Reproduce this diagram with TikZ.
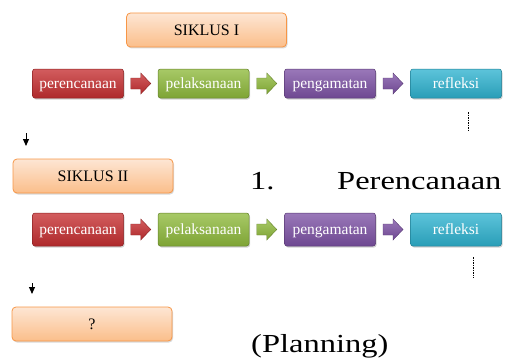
\documentclass[tikz,border=0pt]{standalone}
\usepackage{fontspec}
\setmainfont{Liberation Serif}
\newfontfamily\bigfont[FakeStretch=1.25]{Liberation Serif}
\usetikzlibrary{calc,shadows,arrows.meta}
\definecolor{cred}{HTML}{C62F31}
\definecolor{cgreen}{HTML}{8FBA3C}
\definecolor{cpurple}{HTML}{7D52A5}
\definecolor{caqua}{HTML}{2FB3D0}
\definecolor{corange}{HTML}{F79646}
\definecolor{peachtop}{HTML}{FDE6D4}
\definecolor{peachbot}{HTML}{FBBE8A}
\tikzset{
  x=1pt, y=-1pt,
  stage/.style={rounded corners=2.5pt, draw=#1!70!black, line width=0.5pt,
    top color=#1!78!white, middle color=#1, bottom color=#1!88!black,
    text=white, font=\fontsize{15.5}{17}\selectfont, inner sep=0pt,
    text height=10pt, text depth=0pt,
    minimum width=91pt,
    drop shadow={opacity=0.35, shadow xshift=1pt, shadow yshift=-1.5pt}},
  cycbox/.style={rounded corners=4pt, draw=corange, line width=0.8pt,
    top color=peachtop, bottom color=peachbot, text=black,
    font=\fontsize{16}{18}\selectfont, inner sep=0pt,
    text height=11pt, text depth=0pt,
    minimum width=160pt, minimum height=34pt,
    drop shadow={opacity=0.3, shadow xshift=1pt, shadow yshift=-1.5pt}},
  blockarr/.style={draw=#1!70!black, line width=0.4pt,
    top color=#1!78!white, middle color=#1, bottom color=#1!88!black},
  downarr/.style={line width=1pt, -{Triangle[length=7pt,width=6pt]}},
  dashln/.style={line width=0.5pt, dash pattern=on 1.5pt off 1pt},
  bigtext/.style={anchor=base west, inner sep=0pt, font=\bigfont\fontsize{26}{30}\selectfont}
}
\newcommand{\blockarrow}[2]{%
  \path[blockarr=#2] ([shift={(-10,-5.5)}]#1) -- ([shift={(0,-5.5)}]#1) -- ([shift={(0,-10.5)}]#1)
    -- ([shift={(10,0)}]#1) -- ([shift={(0,10.5)}]#1) -- ([shift={(0,5.5)}]#1)
    -- ([shift={(-10,5.5)}]#1) -- cycle;}
\begin{document}
\begin{tikzpicture}
\path[use as bounding box] (0,0) rectangle (505,361);

% Siklus I
\node[cycbox] (s1) at (206.5,30) {SIKLUS I};
\node[stage=cred, minimum height=29pt] (p1) at (78,83.5) {perencanaan};
\node[stage=cgreen, minimum height=29pt] (l1) at (203.5,83.5) {pelaksanaan};
\node[stage=cpurple, minimum height=29pt] (g1) at (330,83.5) {pengamatan};
\node[stage=caqua, minimum height=29pt] (r1) at (456,83.5) {refleksi};
\coordinate (m11) at ($(p1.east)!.5!(l1.west)$);
\coordinate (m12) at ($(l1.east)!.5!(g1.west)$);
\coordinate (m13) at ($(g1.east)!.5!(r1.west)$);
\blockarrow{m11}{cred}
\blockarrow{m12}{cgreen}
\blockarrow{m13}{cpurple}
\coordinate (d1a) at (468,112);
\coordinate (d1b) at (468,132);
\draw[dashln] (d1a) -- (d1b);
\coordinate (a1a) at (26,133);
\coordinate (a1b) at (26,146);
\draw[downarr] (a1a) -- (a1b);

% Siklus II
\node[cycbox] (s2) at (93,176) {SIKLUS II};
\node[stage=cred, minimum height=33pt] (p2) at (78,229.5) {perencanaan};
\node[stage=cgreen, minimum height=33pt] (l2) at (203.5,229.5) {pelaksanaan};
\node[stage=cpurple, minimum height=33pt] (g2) at (330,229.5) {pengamatan};
\node[stage=caqua, minimum height=33pt] (r2) at (456,229.5) {refleksi};
\coordinate (m21) at ($(p2.east)!.5!(l2.west)$);
\coordinate (m22) at ($(l2.east)!.5!(g2.west)$);
\coordinate (m23) at ($(g2.east)!.5!(r2.west)$);
\blockarrow{m21}{cred}
\blockarrow{m22}{cgreen}
\blockarrow{m23}{cpurple}
\coordinate (d2a) at (473,257);
\coordinate (d2b) at (473,278);
\draw[dashln] (d2a) -- (d2b);
\coordinate (a2a) at (32,283);
\coordinate (a2b) at (32,294);
\draw[downarr] (a2a) -- (a2b);

% Siklus ?
\node[cycbox] (s3) at (92,324) {?};

% body text
\node[bigtext] (num) at (250,189) {1.};
\node[bigtext] (per) at (337,189) {Perencanaan};
\node[bigtext] (plan) at (251,352) {(Planning)};
\end{tikzpicture}
\end{document}
